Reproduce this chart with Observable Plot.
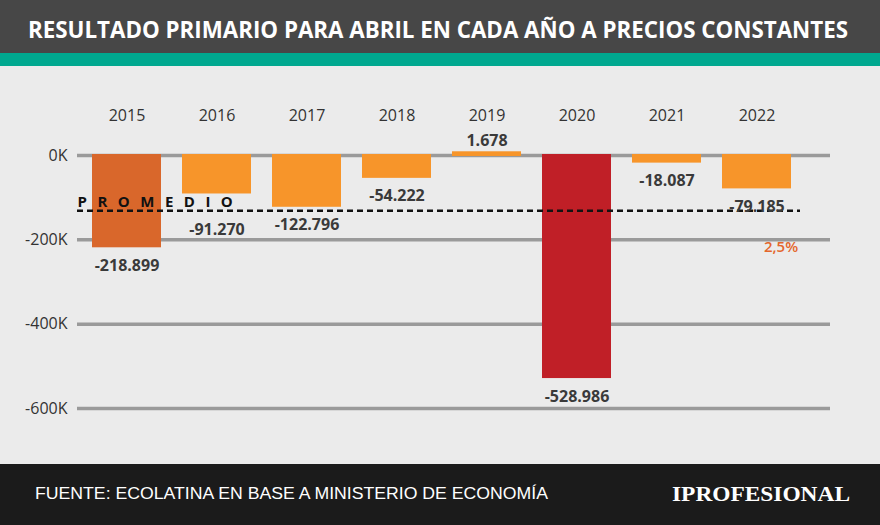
<!DOCTYPE html>
<html>
<head>
<meta charset="utf-8">
<script src="https://cdn.jsdelivr.net/npm/d3@7"></script>
<script src="https://cdn.jsdelivr.net/npm/@observablehq/plot@0.6"></script>
<style>
  html, body { margin: 0; padding: 0; }
  body { width: 880px; height: 525px; background: #ebebeb; overflow: hidden; font-family: "Open Sans", sans-serif; position: relative; }
  #header { height: 53px; background: #474747; position: relative; overflow: hidden; }
  #title { position: absolute; left: 28px; top: 14px; color: #fff; font-family: "Open Sans", sans-serif; font-weight: 700; font-size: 24px; line-height: 30px; white-space: nowrap; transform-origin: 0 0; }
  #teal { height: 13px; background: #00a88f; }
  #chart { height: 398px; }
  #chart svg { display: block; }
  #footer { position: absolute; left: 0; top: 464px; width: 880px; height: 61px; background: #1b1b1b; }
  #source { position: absolute; left: 35px; top: 20px; color: #fff; font-family: "Liberation Sans", Arial, sans-serif; font-size: 17px; white-space: nowrap; transform-origin: 0 0; }
  #logo { position: absolute; left: 672px; top: 17px; color: #fff; font-family: "Liberation Serif", serif; font-weight: bold; font-size: 22px; white-space: nowrap; transform-origin: 0 0; }
</style>
</head>
<body>
<div id="header"><span id="title">RESULTADO PRIMARIO PARA ABRIL EN CADA AÑO A PRECIOS CONSTANTES</span></div>
<div id="teal"></div>
<div id="chart"></div>
<div id="footer"><span id="source">FUENTE: ECOLATINA EN BASE A MINISTERIO DE ECONOMÍA</span><span id="logo">IPROFESIONAL</span></div>
<script>
const years = ["2015", "2016", "2017", "2018", "2019", "2020", "2021", "2022"];
const values = [-218899, -91270, -122796, -54222, 1678, -528986, -18087, -79185];
const yTicks = [0, -200000, -400000, -600000];
const promedio = -131000;
const annotationText = "2,5%";
const annotationYear = "2022";
const annotationValue = -200000;

const data = years.map((y, i) => ({year: y, value: values[i]}));
const es = d3.formatLocale({decimal: ",", thousands: ".", grouping: [3], currency: ["$", ""], minus: "-"});
const fmt = es.format(",d");

const colorFor = d => d.year === "2020" ? "#c01f27" : d.year === "2015" ? "#d9672b" : "#f7952a";

const neg = data.filter(d => d.value < 0);
const main = data.filter(d => d.year !== "2016" && d.value < 0);
const low = data.filter(d => d.year === "2016");
const pos = data.filter(d => d.value > 0);

const chart = Plot.plot({
  width: 880,
  height: 398,
  marginLeft: 77,
  marginRight: 50,
  marginTop: 58,
  marginBottom: 40,
  style: {background: "transparent", fontFamily: "Open Sans, sans-serif"},
  x: {type: "band", domain: years, range: [90, 794], paddingInner: 0.23, paddingOuter: 0, label: null},
  y: {domain: [-600000, 0], range: [342, 89], label: null},
  marks: [
    Plot.ruleY(yTicks, {stroke: "#9a9a9a", strokeWidth: 3.5}),
    Plot.barY(neg, {x: "year", y: "value", fill: colorFor, insetTop: -1}),
    Plot.barY(pos, {x: "year", y: "value", fill: colorFor, insetTop: -3, insetBottom: -1}),
    Plot.ruleY([promedio], {stroke: "#111", strokeWidth: 2.5, strokeDasharray: "6,4", insetRight: 30}),
    Plot.text(["PROMEDIO"], {y: promedio, frameAnchor: "left", textAnchor: "start", dy: -9, fill: "#111", fontSize: 15, fontWeight: "bold"}),
    Plot.text(main, {x: "year", y: "value", text: d => fmt(d.value), dy: 18, fill: "#3a3a3a", fontSize: 16, fontWeight: "bold"}),
    Plot.text(low, {x: "year", y: "value", text: d => fmt(d.value), dy: 36, fill: "#3a3a3a", fontSize: 16, fontWeight: "bold"}),
    Plot.text(pos, {x: "year", y: "value", text: d => fmt(d.value), dy: -14, fill: "#3a3a3a", fontSize: 16, fontWeight: "bold"}),
    Plot.text([annotationText], {x: () => annotationYear, y: () => annotationValue, dx: 24, dy: 7, fill: "#e4662c", fontSize: 15, fontWeight: "600", letterSpacing: -1}),
    Plot.axisX({anchor: "top", tickSize: 0, tickPadding: 4, fontSize: 16, color: "#333", label: null}),
    Plot.axisY({ticks: yTicks, tickSize: 0, tickPadding: 10, fontSize: 16, color: "#333", tickFormat: d => (d / 1000) + "K", label: null})
  ]
});
document.getElementById("chart").appendChild(chart);

d3.select(chart).selectAll("text").filter(function() { return this.textContent === "PROMEDIO"; })
  .attr("letter-spacing", "10.5px");

function fitWidth(id, w) {
  const el = document.getElementById(id);
  const r = el.getBoundingClientRect();
  el.style.transform = `scaleX(${w / r.width})`;
}
fitWidth("title", 820);
fitWidth("source", 513);
fitWidth("logo", 178);
</script>
</body>
</html>
